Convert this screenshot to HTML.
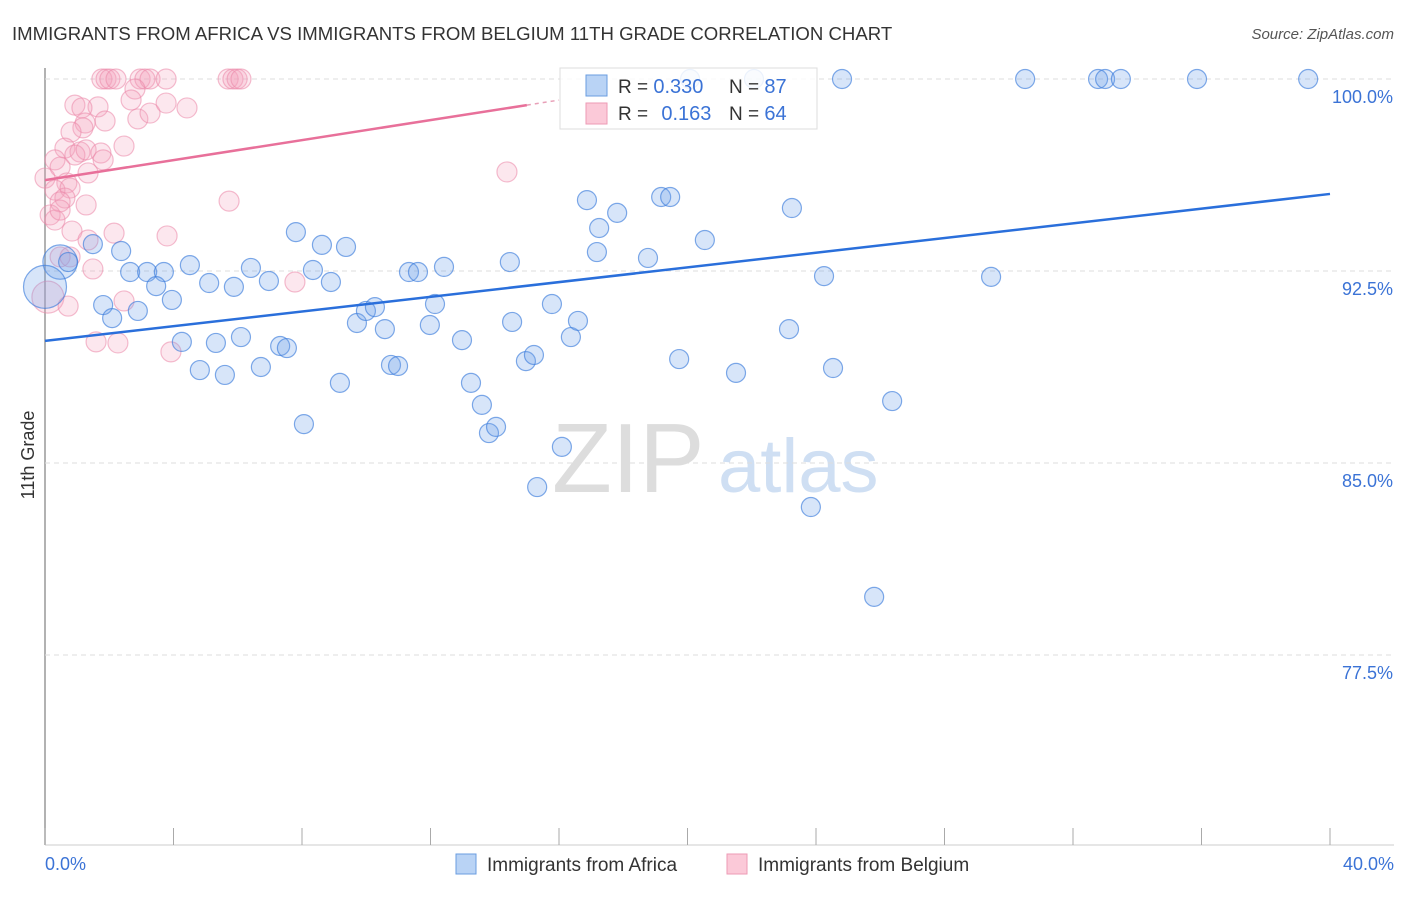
<!DOCTYPE html>
<html><head><meta charset="utf-8"><style>
body{margin:0;background:#fff;font-family:"Liberation Sans",sans-serif;}
svg text{font-family:"Liberation Sans",sans-serif;}
</style></head><body>
<svg id="chart" width="1406" height="892">
<text x="12" y="40" font-size="18.6" fill="#333">IMMIGRANTS FROM AFRICA VS IMMIGRANTS FROM BELGIUM 11TH GRADE CORRELATION CHART</text>
<text x="1394" y="39" font-size="15" fill="#555" font-style="italic" text-anchor="end">Source: ZipAtlas.com</text>
<g><text x="552" y="492" font-size="98" fill="#ddd" font-family="Liberation Serif">ZIP</text><text x="718" y="492" font-size="76" fill="#cfdff3">atlas</text></g>
<g id="grid"></g><g id="marks"></g>
<text transform="translate(34,455) rotate(-90)" font-size="18" fill="#333" text-anchor="middle">11th Grade</text>
<text x="45" y="870" font-size="18" fill="#3b73d6">0.0%</text>
<text x="1394" y="870" font-size="18" fill="#3b73d6" text-anchor="end">40.0%</text>
<g>
<rect x="456" y="854" width="20" height="20" fill="#b9d3f5" stroke="#6a9de0"/>
<text x="487" y="871" font-size="19" fill="#333">Immigrants from Africa</text>
<rect x="727" y="854" width="20" height="20" fill="#fbc9d8" stroke="#ee9ab5"/>
<text x="758" y="871" font-size="19" fill="#333">Immigrants from Belgium</text>
</g>
<g>
<rect x="560" y="68" width="257" height="61" fill="#fff" fill-opacity="0.85" stroke="#ddd"/>
<rect x="586" y="75" width="21" height="21" fill="#b9d3f5" stroke="#6a9de0"/>
<rect x="586" y="103" width="21" height="21" fill="#fbc9d8" stroke="#ee9ab5"/>
<text x="618" y="93" font-size="19" fill="#333">R = <tspan fill="#3b73d6" font-size="20">0.330</tspan></text>
<text x="729" y="93" font-size="19" fill="#333">N = <tspan fill="#3b73d6" font-size="20">87</tspan></text>
<text x="618" y="120" font-size="19" fill="#333">R = <tspan fill="#3b73d6" font-size="20" dx="8">0.163</tspan></text>
<text x="729" y="120" font-size="19" fill="#333">N = <tspan fill="#3b73d6" font-size="20">64</tspan></text>
</g>
</svg>
<script>
const yTicks=[100,92.5,85,77.5];
const yTickLabels=["100.0%","92.5%","85.0%","77.5%"];
const blueX=[0.47,0,0.72,1.49,2.37,2.65,3.18,3.70,1.81,2.09,2.89,3.46,3.95,4.51,4.26,4.82,5.11,5.32,5.60,5.88,6.10,6.41,6.72,6.97,7.32,7.53,7.81,8.06,8.34,8.62,8.90,9.18,9.37,9.71,9.99,10.27,10.58,10.77,10.99,11.33,11.61,11.98,12.14,12.42,12.98,13.26,13.60,13.82,14.04,14.47,14.54,14.97,15.22,15.32,15.78,16.09,16.37,16.59,16.87,17.18,17.25,17.81,18.77,19.18,19.46,19.74,20.54,21.51,23.16,23.25,24.25,24.53,24.81,25.81,23.84,26.37,29.45,30.51,32.78,33.00,33.49,35.86,39.32,20.08,22.07];
const blueY=[92.85,91.88,92.85,93.55,93.28,92.46,92.46,92.46,91.17,90.66,90.94,91.91,91.37,92.73,89.73,88.63,92.03,89.69,88.44,91.88,89.92,92.62,88.75,92.11,89.57,89.49,94.02,86.52,92.54,93.52,92.07,88.13,93.44,90.47,90.94,91.09,90.23,88.83,88.79,92.46,92.46,90.39,91.21,92.66,89.80,88.13,87.27,86.17,86.41,92.85,90.51,88.98,89.22,84.06,91.21,85.63,89.92,90.55,95.27,93.24,94.18,94.77,93.01,95.39,95.39,89.06,93.71,88.52,90.23,94.96,92.30,88.71,100,79.77,83.28,87.42,92.27,100,100,100,100,100,100,100,100];
const blueWeight=[4,5];
const pinkX=[1.77,1.90,2.02,2.21,2.96,3.11,3.27,3.77,5.70,5.85,5.98,6.10,2.80,2.68,0.93,1.65,1.15,1.87,1.25,1.18,2.89,3.27,3.77,4.42,0.81,0.62,1.09,0.93,1.28,1.74,1.81,2.46,0.31,0.47,1.34,0,0.68,0.31,0.78,0.62,0.47,1.28,0.16,0.31,0.47,0.84,2.15,3.80,5.73,14.38,1.49,0.09,0.72,2.46,1.59,2.27,3.92,7.78,0.47,0.78,1.34];
const pinkY=[100,100,100,100,100,100,100,100,100,100,100,100,99.61,99.18,98.98,98.91,98.87,98.36,98.28,98.09,98.44,98.67,99.06,98.87,97.93,97.30,97.15,97.03,97.23,97.11,96.84,97.38,96.84,96.56,96.33,96.13,95.94,95.66,95.74,95.35,95.20,95.08,94.69,94.49,94.88,94.06,93.98,93.87,95.23,96.37,92.58,91.48,91.13,91.33,89.73,89.69,89.34,92.07,93.05,93.05,93.71];
const pinkWeight={51:3};
const blueTrend=[89.77,95.51];
const pinkTrend=[96.05,98.98];
const NS="http://www.w3.org/2000/svg";
const xs=v=>45+v/40*1285, ys=v=>79+(100-v)*25.6;
const grid=document.getElementById('grid'), marks=document.getElementById('marks');
function mk(tag,at,parent){const e=document.createElementNS(NS,tag);for(const k in at)e.setAttribute(k,at[k]);parent.appendChild(e);return e;}
let ax=mk('line',{x1:45,y1:68,x2:45,y2:845,stroke:'#999','stroke-width':1.5},grid);


let bx=mk('line',{x1:45,y1:845,x2:1394,y2:845,stroke:'#ccc'},grid);


for(let i=0;i<=10;i++){let t=mk('line',{x1:xs(i*4),x2:xs(i*4),y1:828,y2:845,stroke:'#aaa'},grid);

}
yTicks.forEach((v,i)=>{let g=mk('line',{x1:45,x2:1394,y1:ys(v),y2:ys(v),stroke:'#ddd','stroke-dasharray':'5,4'},grid);


let t=mk('text',{x:1393,y:ys(v)+24,'font-size':18,fill:'#3b73d6','text-anchor':'end'},grid);t.textContent=yTickLabels[i];

});
pinkX.forEach((x,i)=>{let r=(pinkWeight[i]||1)>1?16:10;let c=mk('circle',{cx:xs(x),cy:ys(pinkY[i]),r:r,fill:'rgba(244,160,188,0.25)',stroke:'rgba(235,135,168,0.55)','stroke-width':1.2},marks);

});
blueX.forEach((x,i)=>{let w=blueWeight[i]||1;let r=w>1?w*4.3:9.5;let c=mk('circle',{cx:xs(x),cy:ys(blueY[i]),r:r,fill:'rgba(110,160,235,0.28)',stroke:'rgba(60,125,220,0.65)','stroke-width':1.2},marks);

});
let bl=mk('line',{x1:xs(0),y1:ys(blueTrend[0]),x2:xs(40),y2:ys(blueTrend[1]),stroke:'#2a6fdb','stroke-width':2.5},marks);


const pslope=(pinkTrend[1]-pinkTrend[0])/15;
let pl=mk('line',{x1:xs(0),y1:ys(pinkTrend[0]),x2:xs(15),y2:ys(pinkTrend[1]),stroke:'#e8709a','stroke-width':2.5},marks);


let pd=mk('line',{x1:xs(15),y1:ys(pinkTrend[1]),x2:xs(16),y2:ys(pinkTrend[1]+pslope),stroke:'#e8a0b8','stroke-width':1.5,'stroke-dasharray':'4,4'},marks);


</script>
</body></html>
